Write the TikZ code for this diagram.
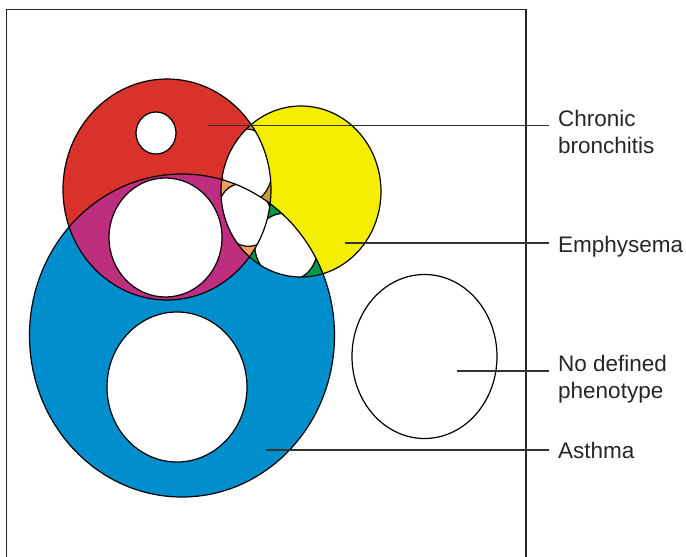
\documentclass[tikz,border=0pt]{standalone}
\usepackage{fontspec}
\setmainfont{Liberation Sans}
\usetikzlibrary{positioning}
\definecolor{cbred}{RGB}{216,50,42}
\definecolor{emyellow}{RGB}{244,238,0}
\definecolor{asblue}{RGB}{0,143,204}
\definecolor{cbasmag}{RGB}{190,46,126}
\definecolor{cbemgold}{RGB}{196,158,54}
\definecolor{allorange}{RGB}{238,162,92}
\definecolor{emasgreen}{RGB}{0,152,70}
\tikzset{
   myring/.style={draw=black, line width=1.2pt},
   myhole/.style={draw=black, fill=white, line width=1.2pt},
   myleader/.style={draw=black!80, line width=1.2pt},
   mylabel/.style={anchor=base west, align=left, inner xsep=9pt, inner ysep=0pt,
                   text=black!85, font=\fontsize{22.5}{27}\selectfont}
}
% the three phenotype ellipses
\newcommand{\cbshape}{(167,189.5) ellipse [x radius=104, y radius=110.5]}
\newcommand{\emshape}{(301,191.5) ellipse [x radius=80, y radius=85.5]}
\newcommand{\asshape}{(182,335.5) ellipse [x radius=152.5, y radius=161.5]}

\begin{document}
\begin{tikzpicture}[x=1pt,y=-1pt]
   \useasboundingbox (0,0) rectangle (686,557);
   \draw[line width=1.2pt, black!85] (6.5,557) -- (6.5,9.5) -- (526,9.5) -- (526,557);
   % plain fills
   \fill[asblue] \asshape;
   \fill[cbred] \cbshape;
   \fill[emyellow] \emshape;
   % emphysema + asthma
   \begin{scope}
      \clip \emshape;
      \fill[emasgreen] \asshape;
      \clip \asshape;
      \draw[myhole, rotate around={17:(286,247)}] (286,247) ellipse [x radius=31, y radius=34];
   \end{scope}
   % chronic bronchitis overlaps
   \begin{scope}
      \clip \cbshape;
      \fill[cbasmag] \asshape;
      \fill[cbemgold] \emshape;
      \clip \emshape;
      \draw[myhole] (247,166) ellipse [x radius=26, y radius=37];
      \clip \asshape;
      \fill[allorange] \asshape;
      \draw[myhole, rotate around={20:(245,215)}] (245,215) ellipse [x radius=26, y radius=32];
   \end{scope}
   % holes
   \draw[myhole] (156,133) ellipse [x radius=20, y radius=21];
   \draw[myhole] (165.5,237.5) ellipse [x radius=56.5, y radius=59.5];
   \draw[myhole] (177,387) ellipse [x radius=70, y radius=75];
   % outlines
   \draw[myring] \asshape;
   \draw[myring] \cbshape;
   \draw[myring] \emshape;
   \draw[myring] (424.5,356.5) ellipse [x radius=72.5, y radius=82];
   % labels
   \coordinate (cbpt) at (208,125.5);
   \coordinate (empt) at (345,243);
   \coordinate (nopt) at (457,371);
   \coordinate (aspt) at (266,450);
   \node[mylabel] (cblab) at (549,153) {Chronic\\bronchitis};
   \node[mylabel] (emlab) at (549,252) {Emphysema};
   \node[mylabel] (nolab) at (549,398) {No defined\\phenotype};
   \node[mylabel] (aslab) at (549,458) {Asthma};
   \draw[myleader] (cbpt) -- (cbpt -| cblab.west);
   \draw[myleader] (empt) -- (empt -| emlab.west);
   \draw[myleader] (nopt) -- (nopt -| nolab.west);
   \draw[myleader] (aspt) -- (aspt -| aslab.west);
\end{tikzpicture}
\end{document}
